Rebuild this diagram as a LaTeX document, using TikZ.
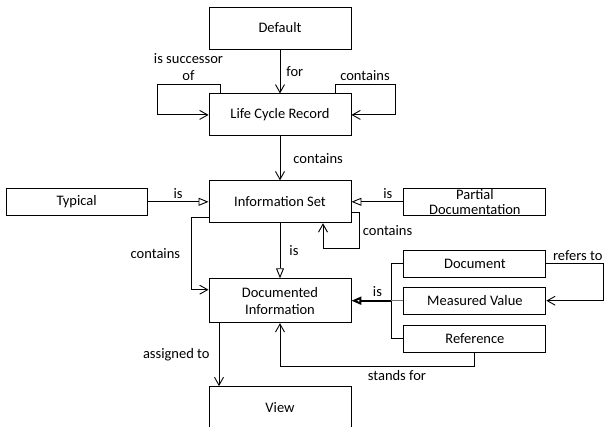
\documentclass[tikz,border=0pt]{standalone}
\usepackage{fontspec}
\setmainfont{Carlito}
\usepackage{tikz}
\usetikzlibrary{calc,positioning,arrows.meta}
\tikzset{
  entity/.style={ % image of a class box
    draw, rectangle, line width=0.9pt,
    minimum width=142pt, minimum height=42pt,
    inner sep=0pt, align=center, text=black
  },
  smallbox/.style={ % image of a flat class box
    entity, minimum height=27pt,
    font=\fontsize{14.5}{15}\selectfont
  },
  assoc/.style={ % association, open barb at the end
    draw, line width=0.9pt, -{Straight Barb[length=8pt,width=9pt]}
  },
  gen/.style={ % generalisation, hollow triangle
    draw, line width=0.9pt, -{Triangle[open,length=10pt,width=8pt]}
  },
  lbl/.style={ % connector label
    inner sep=3pt, text=black
  }
}

\begin{document}
\begin{tikzpicture}[
    x=1pt, y=1pt, font=\fontsize{14.5}{17}\selectfont, line width=0.9pt
  ]
    \useasboundingbox (0,0) rectangle (605,-426);

    \node[entity] (default) at (280,-28) {Default};
    \node[entity,below=44pt of default] (lcr) {Life Cycle Record};
    \node[entity,below=44pt of lcr] (info) {Information Set};
    \node[entity,below=55pt of info,minimum height=44pt] (docinfo) {Documented\\Information};
    \node[entity,below=63pt of docinfo,minimum height=41pt] (view) {View};
    \node[smallbox,left=61pt of info,minimum width=141pt] (typical) {Typical};
    \node[smallbox,right=52pt of info] (partial) {Partial\\Documentation};
    \node[smallbox,right=52pt of docinfo] (measured) {Measured Value};
    \node[smallbox,above=9pt of measured] (document) {Document};
    \node[smallbox,below=10pt of measured] (reference) {Reference};

    \draw[assoc] (default) -- node[lbl,right,xshift=3pt] {for} (lcr);
    \draw[assoc] ([xshift=-60pt]lcr.north) -- ++(0,9) -- node[lbl,above,align=center] {is successor\\of} ++(-63,0) |- (lcr.west);
    \draw[assoc] ([xshift=55pt]lcr.north) -- ++(0,9) -- node[lbl,above] {contains} ++(60,0) |- (lcr.east);
    \draw[assoc] (lcr) -- node[lbl,right,xshift=10pt] {contains} (info);

    \draw[gen] (typical) -- node[lbl,above] {is} (info);
    \draw[gen] (partial) -- node[lbl,above,pos=0.3] {is} (info);
    \draw[assoc] ([yshift=-11pt]info.east) -- ++(8,0) -- node[lbl,right] {contains} ++(0,-36) -| ([xshift=43pt]info.south);
    \draw[gen] (info) -- node[lbl,right,xshift=6pt] {is} (docinfo);
    \draw[assoc] ([yshift=-16pt]info.west) -- ++(-17,0) |- node[lbl,left,pos=0.25,xshift=-8pt] {contains} ([yshift=11pt]docinfo.west);

    % generalisation tree
    \coordinate[left=12pt of measured.west] (isjoin);
    \draw (document.west) -| (isjoin) |- (reference.west);
    \draw[black!55] (measured.west) -- (isjoin);
    \draw[gen,line width=2pt] (isjoin) -- node[lbl,above,pos=0.35] {is} (docinfo.east);

    \draw[assoc] (document.east) -- node[lbl,above,pos=0.55] {refers to} ++(57,0) |- (measured.east);
    \draw[assoc] (reference.south) -- ++(0,-14) -| node[lbl,below,pos=0.2] {stands for} (docinfo.south);
    \draw[assoc] ([xshift=-61pt]docinfo.south) -- node[lbl,left,xshift=-6pt] {assigned to} ([xshift=-61pt]view.north);
\end{tikzpicture}
\end{document}
